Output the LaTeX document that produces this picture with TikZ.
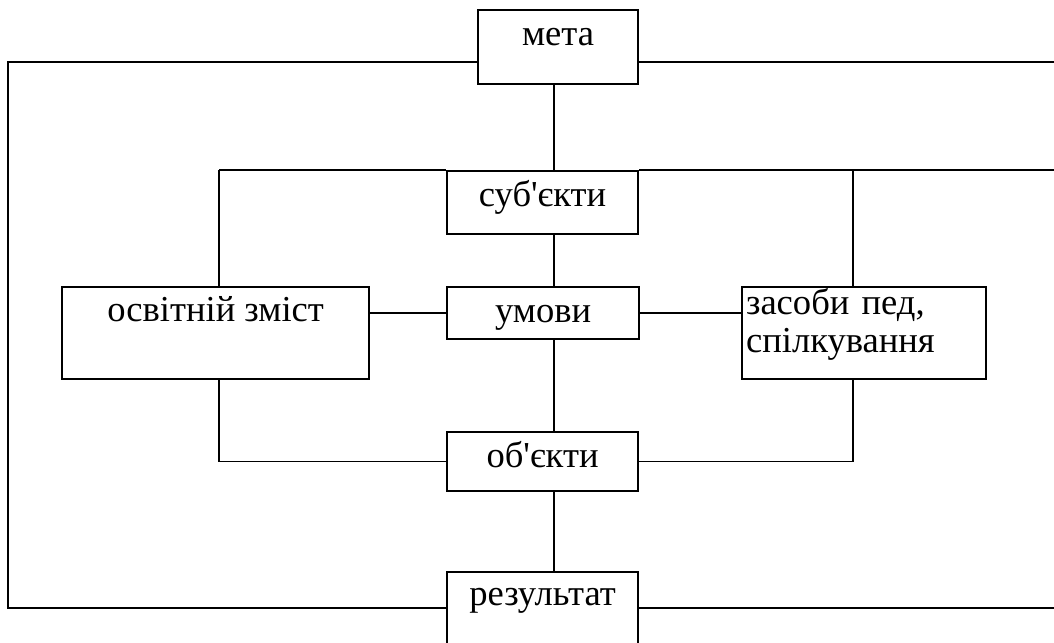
\documentclass[tikz,border=0pt]{standalone}
\usepackage{fontspec}
\setmainfont{Liberation Serif}[Ligatures=TeXOff]
\usepackage{tikz}
\usetikzlibrary{positioning}

\begin{document}
\begin{tikzpicture}[x=0.025cm,y=-0.025cm,
    every node/.style={font=\fontsize{26pt}{26.8pt}\selectfont},
    box/.style={draw,line width=1.5pt,anchor=north west,inner sep=0pt},
    conn/.style={line width=1.2pt},
  ]
  \useasboundingbox (0,0) rectangle (1054,643);
  \clip (0,0) rectangle (1054,643);
  \node[box,minimum width=4cm,text height=0.89cm,text depth=0.94cm]      (meta)  at (477,9.3)   {мета};
  \node[box,minimum width=4.775cm,text height=0.875cm,text depth=0.7cm]  (subj)  at (446,170)   {суб'єкти};
  \node[box,minimum width=7.675cm,text height=0.875cm,text depth=1.425cm] (osv)  at (61,285.7)  {освітній зміст};
  \node[box,minimum width=4.8cm,text height=0.875cm,text depth=0.42cm]   (umovy) at (446,286)   {умови};
  \node[box,minimum width=6.1cm,inner xsep=0.1cm,text width=5.9cm,align=left,
        text height=0.69cm,text depth=1.61cm]                              (zas)   at (741,285.7) {засоби пед,\\ спілкування};
  \node[box,minimum width=4.775cm,text height=0.875cm,text depth=0.6cm]  (obj)   at (446,431)   {об'єкти};
  \node[box,minimum width=4.775cm,text height=0.825cm,text depth=1.4cm]  (res)   at (446,571)   {результат};
  \coordinate (cx) at (554,0);
  \coordinate (lv) at (219,170);
  \coordinate (rv) at (853,170);
  \coordinate (ft) at (8,62.3);
  \coordinate (fb) at (8,607.7);
  \coordinate (re) at (1060,0);
  \draw[conn] (meta.west |- ft) -- (ft) -- (fb) -- (fb -| res.west);
  \draw[conn] (meta.east |- ft) -- (ft -| re);
  \draw[conn] (res.east |- fb) -- (fb -| re);
  \draw[conn] (meta.south -| cx) -- (subj.north -| cx);
  \draw[conn] (subj.south -| cx) -- (umovy.north -| cx);
  \draw[conn] (umovy.south -| cx) -- (obj.north -| cx);
  \draw[conn] (obj.south -| cx) -- (res.north -| cx);
  \draw[conn] (lv) -- (subj.north west);
  \draw[conn] (subj.north east) -- (subj.north -| re);
  \draw[conn] (lv) -- (lv |- osv.north);
  \draw[conn] (rv) -- (rv |- zas.north);
  \draw[conn] (osv.east |- umovy.west) -- (umovy.west);
  \draw[conn] (umovy.east) -- (umovy.east -| zas.west);
  \draw[conn] (lv |- osv.south) |- (obj.west);
  \draw[conn] (rv |- zas.south) |- (obj.east);
\end{tikzpicture}
\end{document}
